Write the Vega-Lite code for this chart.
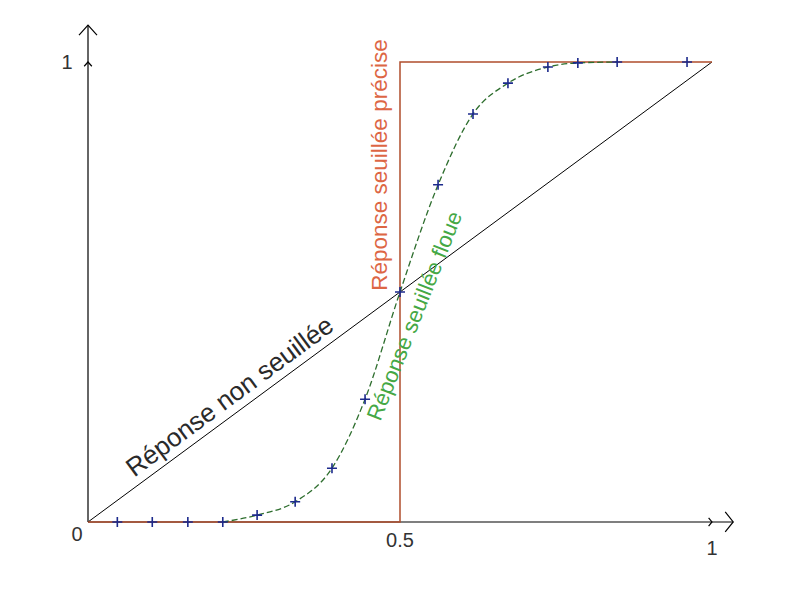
{
  "$schema": "https://vega.github.io/schema/vega-lite/v6.json",
  "width": 800,
  "height": 590,
  "autosize": {"type": "none"},
  "padding": 0,
  "background": "white",
  "config": {"view": {"stroke": null}},
  "datasets": {
    "axes": [
      {"axis": "x", "x": 0, "y": 0},
      {"axis": "x", "x": 1.034, "y": 0},
      {"axis": "y", "x": 0, "y": 0},
      {"axis": "y", "x": 0, "y": 1.08}
    ],
    "arrows": [
      {"axis": "x", "x": 1.034, "y": 0},
      {"axis": "y", "x": 0, "y": 1.08}
    ],
    "ticks": [
      {"axis": "x", "x": 1, "y": 0},
      {"axis": "y", "x": 0, "y": 1}
    ],
    "ticklabels": [
      {"label": "0", "pos": "origin", "x": 0, "y": 0},
      {"label": "0.5", "pos": "mid", "x": 0.5, "y": 0},
      {"label": "1", "pos": "xend", "x": 1, "y": 0},
      {"label": "1", "pos": "yend", "x": 0, "y": 1}
    ],
    "precise": [
      {"i": 0, "x": 0, "y": 0},
      {"i": 1, "x": 0.5, "y": 0},
      {"i": 2, "x": 0.5, "y": 1},
      {"i": 3, "x": 1, "y": 1}
    ],
    "linear": [
      {"x": 0, "y": 0},
      {"x": 1, "y": 1}
    ],
    "fuzzy": [
      {"x": 0.216, "y": 0},
      {"x": 0.271, "y": 0.015},
      {"x": 0.332, "y": 0.044},
      {"x": 0.391, "y": 0.117},
      {"x": 0.444, "y": 0.267},
      {"x": 0.5, "y": 0.5},
      {"x": 0.561, "y": 0.733},
      {"x": 0.617, "y": 0.887},
      {"x": 0.673, "y": 0.954},
      {"x": 0.737, "y": 0.989},
      {"x": 0.785, "y": 0.998},
      {"x": 0.848, "y": 1}
    ],
    "samples": [
      {"x": 0.047, "y": 0},
      {"x": 0.103, "y": 0},
      {"x": 0.160, "y": 0},
      {"x": 0.216, "y": 0},
      {"x": 0.271, "y": 0.015},
      {"x": 0.332, "y": 0.044},
      {"x": 0.391, "y": 0.117},
      {"x": 0.444, "y": 0.267},
      {"x": 0.5, "y": 0.5},
      {"x": 0.561, "y": 0.733},
      {"x": 0.617, "y": 0.887},
      {"x": 0.673, "y": 0.954},
      {"x": 0.737, "y": 0.989},
      {"x": 0.785, "y": 0.998},
      {"x": 0.848, "y": 1},
      {"x": 0.960, "y": 1}
    ],
    "notes": [
      {"key": "non", "label": "Réponse non seuillée", "x": 0.2276, "y": 0.2717},
      {"key": "precise", "label": "Réponse seuillée précise", "x": 0.468, "y": 0.776},
      {"key": "floue", "label": "Réponse seuillée floue", "x": 0.524, "y": 0.448}
    ]
  },
  "encoding": {
    "x": {"field": "x", "type": "quantitative", "scale": {"domain": [-0.14103, 1.14103], "nice": false, "zero": false}, "axis": null},
    "y": {"field": "y", "type": "quantitative", "scale": {"domain": [-0.14783, 1.13478], "nice": false, "zero": false}, "axis": null}
  },
  "layer": [
    {
      "data": {"name": "axes"},
      "mark": {"type": "line", "color": "#000000", "strokeWidth": 1.2},
      "encoding": {"detail": {"field": "axis"}}
    },
    {
      "data": {"name": "arrows"},
      "mark": {"type": "point", "filled": false, "stroke": "#000000", "strokeWidth": 1.2, "opacity": 1, "size": 400},
      "encoding": {
        "shape": {"field": "axis", "type": "nominal", "scale": {"domain": ["x", "y"], "range": ["M-0.8,-1L0,0L-0.8,1", "M-0.9,1L0,0L0.9,1"]}, "legend": null}
      }
    },
    {
      "data": {"name": "ticks"},
      "mark": {"type": "point", "filled": false, "stroke": "#000000", "strokeWidth": 1.2, "opacity": 1, "size": 72},
      "encoding": {
        "shape": {"field": "axis", "type": "nominal", "scale": {"domain": ["x", "y"], "range": ["M0,-1L0,1", "M-1,0L1,0"]}, "legend": null}
      }
    },
    {
      "data": {"name": "linear"},
      "mark": {"type": "line", "color": "#000000", "strokeWidth": 1}
    },
    {
      "data": {"name": "precise"},
      "mark": {"type": "line", "color": "#b04e2c", "strokeWidth": 1.5},
      "encoding": {"order": {"field": "i", "type": "quantitative"}}
    },
    {
      "data": {"name": "fuzzy"},
      "mark": {"type": "line", "color": "#2e6e2e", "strokeWidth": 1.3, "strokeDash": [6, 3], "interpolate": "monotone"}
    },
    {
      "data": {"name": "samples"},
      "mark": {"type": "point", "filled": false, "stroke": "#1c2a8c", "strokeWidth": 1.6, "opacity": 1, "size": 100, "shape": "M-1,0L1,0M0,-1L0,1"}
    },
    {
      "data": {"name": "ticklabels"},
      "transform": [{"filter": "datum.pos === 'origin'"}],
      "mark": {"type": "text", "font": "Liberation Sans", "fontSize": 20, "color": "#333333", "align": "center", "baseline": "middle", "dx": -11, "dy": 13},
      "encoding": {"text": {"field": "label"}}
    },
    {
      "data": {"name": "ticklabels"},
      "transform": [{"filter": "datum.pos === 'mid'"}],
      "mark": {"type": "text", "font": "Liberation Sans", "fontSize": 20, "color": "#333333", "align": "center", "baseline": "middle", "dy": 19},
      "encoding": {"text": {"field": "label"}}
    },
    {
      "data": {"name": "ticklabels"},
      "transform": [{"filter": "datum.pos === 'xend'"}],
      "mark": {"type": "text", "font": "Liberation Sans", "fontSize": 20, "color": "#333333", "align": "center", "baseline": "middle", "dy": 27},
      "encoding": {"text": {"field": "label"}}
    },
    {
      "data": {"name": "ticklabels"},
      "transform": [{"filter": "datum.pos === 'yend'"}],
      "mark": {"type": "text", "font": "Liberation Sans", "fontSize": 20, "color": "#333333", "align": "center", "baseline": "middle", "dx": -21, "dy": 1},
      "encoding": {"text": {"field": "label"}}
    },
    {
      "data": {"name": "notes"},
      "transform": [{"filter": "datum.key === 'non'"}],
      "mark": {"type": "text", "font": "Liberation Sans", "fontSize": 26, "color": "#2a2a2a", "align": "center", "baseline": "middle", "angle": -36.4},
      "encoding": {"text": {"field": "label"}}
    },
    {
      "data": {"name": "notes"},
      "transform": [{"filter": "datum.key === 'precise'"}],
      "mark": {"type": "text", "font": "Liberation Sans", "fontSize": 22.5, "color": "#dd6644", "align": "center", "baseline": "middle", "angle": -90},
      "encoding": {"text": {"field": "label"}}
    },
    {
      "data": {"name": "notes"},
      "transform": [{"filter": "datum.key === 'floue'"}],
      "mark": {"type": "text", "font": "Liberation Sans", "fontSize": 22, "color": "#45a845", "align": "center", "baseline": "middle", "angle": -68.3},
      "encoding": {"text": {"field": "label"}}
    }
  ]
}
